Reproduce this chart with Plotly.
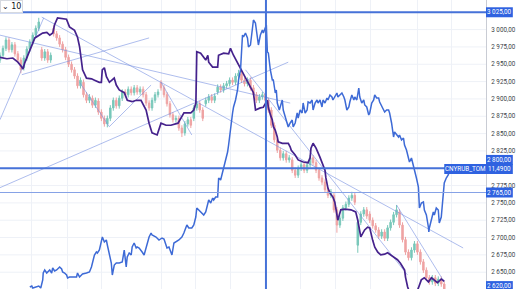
import plotly.graph_objects as go

# ---------------- data ----------------
bars = list(range(150))
opens = [2956,2963,2973,2985,2971,2978,2965,2956,2945,2959,
         2972,2982,2992,3002,2971,2959,2968,2956,3002,2994,
         2988,2979,2971,2960,2950,2942,2933,2919,2924,2906,
         2898,2901,2891,2897,2881,2872,2864,2872,2887,2898,
         2890,2901,2910,2906,2914,2909,2916,2910,2914,2906,
         2894,2887,2898,2906,2924,2916,2906,2893,2877,2870,
         2872,2858,2851,2864,2870,2872,2887,2893,2884,2893,
         2898,2903,2898,2910,2917,2913,2919,2922,2927,2924,
         2933,2936,2927,2922,2927,2916,2906,2898,2903,2907,
         2898,2884,2862,2841,2826,2815,2821,2812,2812,2797,
         2790,2800,2805,2797,2805,2815,2808,2797,2786,2780,
         2769,2761,2761,2740,2718,2728,2743,2748,2757,2761,
         2689,2722,2734,2740,2734,2725,2717,2711,2702,2708,
         2699,2714,2722,2733,2737,2718,2697,2679,2671,2682,
         2691,2679,2665,2653,2642,2636,2642,2634,2640,2633]
closes = [2963,2973,2985,2971,2978,2965,2956,2942,2959,2972,
          2982,2992,3002,3011,2959,2968,2956,2963,2994,2988,
          2979,2971,2960,2950,2942,2933,2919,2927,2906,2898,
          2903,2891,2898,2881,2872,2864,2872,2887,2898,2890,
          2901,2910,2906,2914,2909,2916,2910,2914,2906,2894,
          2887,2898,2906,2910,2916,2906,2893,2877,2870,2872,
          2858,2851,2864,2870,2862,2887,2893,2884,2872,2898,
          2903,2898,2904,2917,2913,2919,2922,2927,2924,2933,
          2937,2927,2922,2927,2916,2906,2898,2903,2906,2898,
          2884,2862,2841,2826,2815,2821,2812,2815,2797,2790,
          2800,2805,2797,2805,2815,2808,2797,2786,2780,2769,
          2761,2766,2740,2718,2728,2743,2748,2757,2761,2751,
          2722,2734,2740,2731,2725,2717,2711,2702,2708,2699,
          2714,2722,2733,2740,2718,2697,2679,2671,2682,2691,
          2679,2665,2653,2642,2636,2642,2634,2640,2633,2622]
highs = [2967,2977,2989,2989,2982,2982,2969,2960,2963,2976,
         2986,2996,3006,3017,2975,2972,2972,2967,3006,2998,
         2992,2983,2975,2964,2954,2946,2937,2931,2928,2910,
         2907,2905,2902,2901,2885,2876,2876,2891,2902,2902,
         2905,2914,2914,2918,2918,2920,2920,2918,2918,2910,
         2898,2902,2910,2914,2927,2920,2910,2897,2881,2876,
         2876,2862,2868,2874,2874,2891,2897,2897,2888,2902,
         2907,2907,2908,2921,2921,2923,2926,2931,2931,2937,
         2942,2940,2931,2931,2931,2920,2910,2907,2910,2911,
         2902,2888,2866,2845,2830,2825,2825,2819,2816,2801,
         2804,2809,2809,2809,2819,2819,2812,2801,2790,2784,
         2773,2770,2765,2744,2732,2747,2752,2761,2766,2765,
         2726,2738,2744,2744,2738,2729,2721,2715,2712,2712,
         2718,2726,2737,2747,2741,2722,2701,2683,2686,2695,
         2695,2683,2669,2657,2646,2646,2646,2644,2644,2637]
lows = [2952,2959,2969,2967,2967,2961,2952,2937,2941,2955,
        2968,2978,2988,2998,2955,2955,2952,2952,2990,2984,
        2975,2967,2956,2946,2938,2929,2915,2915,2902,2894,
        2894,2887,2887,2877,2868,2860,2859,2868,2883,2886,
        2886,2897,2902,2902,2905,2905,2906,2906,2902,2890,
        2883,2883,2894,2902,2912,2902,2889,2873,2866,2866,
        2854,2845,2847,2860,2858,2868,2883,2880,2868,2889,
        2894,2894,2894,2906,2909,2909,2915,2918,2920,2920,
        2929,2923,2918,2918,2912,2902,2894,2894,2899,2894,
        2880,2858,2837,2822,2811,2811,2808,2808,2793,2786,
        2786,2796,2793,2793,2801,2804,2793,2782,2776,2765,
        2757,2757,2736,2707,2714,2724,2739,2744,2753,2747,
        2678,2718,2730,2727,2721,2713,2707,2698,2698,2695,
        2695,2710,2718,2729,2714,2693,2675,2667,2667,2678,
        2675,2661,2649,2638,2632,2632,2630,2630,2629,2618]

# dark purple line (price scale)
ma_x = [0.0,2.3,4.3,6.0,7.3,7.7,8.3,10.0,11.7,14.3,
        15.7,16.7,17.7,18.3,19.0,19.3,22.3,22.7,23.3,25.0,
        26.0,26.7,27.3,27.7,29.0,30.7,31.7,33.3,34.0,34.3,
        35.0,35.7,36.7,38.3,39.0,40.0,41.7,42.7,44.3,45.7,
        47.3,49.0,50.0,51.0,52.7,53.3,54.0,55.7,57.3,59.7,
        61.7,64.0,65.0,65.7,66.0,67.3,68.3,69.0,69.7,70.0,
        71.3,73.0,73.3,75.0,76.7,77.3,78.3,79.7,80.7,81.7,
        83.0,84.0,85.0,85.7,87.3,88.3,89.7,90.0,90.7,91.3,
        91.7,92.3,93.0,93.3,94.7,95.7,96.7,97.3,97.7,99.0,
        100.0,101.7,103.3,104.0,104.3,105.0,106.0,107.3,108.3,109.0,
        109.3,110.0,110.7,111.7,112.3,112.7,113.3,114.3,115.7,117.7,
        119.3,120.0,120.7,121.0,122.3,123.3,124.0,124.3,125.0,125.7,
        126.7,127.7,129.0,130.0,131.0,132.3,133.3,134.3,135.7,136.0,
        136.7,137.7,139.3,140.3,141.3,142.3,143.7,144.7,145.7,146.7,
        148.0,149.0]
ma_y = [2960,2958,2959,2953,2946,2943,2952,2971,2988,2995,
        2996,2992,2995,3007,3014,3017,3015,3011,3004,2999,
        2989,2975,2956,2942,2930,2929,2927,2924,2924,2942,
        2945,2932,2924,2930,2920,2913,2909,2898,2896,2898,
        2898,2884,2865,2851,2848,2855,2865,2862,2862,2865,
        2880,2880,2884,2894,2968,2966,2960,2956,2963,2953,
        2946,2946,2963,2966,2965,2973,2963,2952,2945,2937,
        2927,2917,2909,2884,2887,2888,2898,2888,2877,2870,
        2860,2855,2845,2838,2836,2836,2836,2831,2826,2819,
        2812,2809,2808,2815,2829,2836,2829,2816,2805,2797,
        2786,2771,2764,2758,2751,2737,2725,2740,2741,2740,
        2737,2725,2711,2701,2711,2715,2714,2708,2696,2686,
        2679,2675,2676,2678,2675,2672,2668,2663,2653,2643,
        2629,2617,2617,2627,2639,2642,2636,2642,2639,2635,
        2640,2637]

# CNYRUB_TOM compare line (own scale)
cny_x = [10.0,10.67,11.0,12.33,13.0,13.67,14.33,14.5,15.0,15.67,
         16.0,16.67,17.33,17.67,18.33,19.0,20.0,20.67,21.0,21.67,
         22.33,22.67,23.33,24.33,25.67,26.0,26.67,27.33,27.67,29.0,
         30.0,30.67,31.0,31.67,32.33,32.67,33.33,34.0,34.33,35.0,
         35.67,36.0,36.67,37.33,37.67,38.33,39.0,40.0,41.0,41.67,
         42.33,42.67,43.33,44.0,44.33,45.0,45.67,46.0,46.67,47.33,
         47.67,48.33,49.0,49.33,50.0,50.67,51.0,52.33,53.33,54.33,
         55.0,55.67,56.0,56.67,57.33,57.67,58.33,59.0,60.0,61.0,
         61.67,62.67,63.33,64.33,65.0,65.67,66.0,66.67,67.67,68.33,
         69.0,69.67,70.0,70.67,71.33,71.67,72.33,73.0,73.33,74.0,
         74.67,75.0,75.67,76.33,76.67,77.33,78.0,78.33,79.0,79.67,
         80.0,80.67,81.33,81.67,82.33,83.0,83.33,84.0,84.67,85.0,
         85.67,86.33,86.67,87.33,88.0,88.33,89.0,89.33,89.67,90.0,
         90.67,91.33,91.67,92.33,92.67,93.0,93.67,94.67,95.0,95.67,
         96.33,96.67,97.33,98.0,98.33,99.0,99.67,100.0,100.67,101.33,
         101.67,102.33,103.0,103.33,104.0,104.67,105.0,105.67,106.33,106.67,
         107.33,108.0,108.33,109.0,109.67,110.0,110.67,111.33,111.67,112.33,
         113.0,113.33,114.0,114.67,115.33,115.67,116.33,117.0,117.33,118.0,
         118.67,119.0,119.67,120.33,120.67,121.33,122.0,122.33,123.0,123.67,
         124.0,124.67,125.33,125.67,126.33,127.0,127.33,128.0,128.67,129.0,
         129.67,130.33,130.67,131.33,132.0,132.33,133.0,133.67,134.0,134.67,
         135.33,135.67,136.33,137.0,137.33,138.0,138.67,139.0,139.67,140.33,
         140.5,140.67,141.33,142.0,142.33,143.0,143.67,143.83,144.0,144.67,
         145.33,145.67,146.33,147.0,147.33,148.0,148.33,148.67,149.0,149.67,
         150.33,151.0]
cny_y = [11.254,11.256,11.252,11.254,11.256,11.252,11.268,11.282,11.288,11.282,
         11.284,11.288,11.282,11.292,11.286,11.288,11.294,11.290,11.284,11.282,
         11.278,11.272,11.274,11.274,11.274,11.282,11.274,11.278,11.280,11.282,
         11.284,11.294,11.304,11.318,11.324,11.322,11.328,11.342,11.354,11.344,
         11.348,11.338,11.322,11.302,11.278,11.298,11.302,11.302,11.304,11.328,
         11.294,11.314,11.322,11.318,11.334,11.342,11.332,11.334,11.332,11.328,
         11.324,11.318,11.334,11.342,11.354,11.362,11.358,11.354,11.348,11.352,
         11.350,11.338,11.332,11.334,11.324,11.318,11.342,11.344,11.348,11.354,
         11.362,11.378,11.372,11.372,11.378,11.394,11.412,11.408,11.402,11.398,
         11.404,11.422,11.428,11.422,11.432,11.428,11.434,11.434,11.472,11.468,
         11.484,11.492,11.508,11.524,11.538,11.574,11.602,11.614,11.628,11.648,
         11.668,11.688,11.758,11.754,11.762,11.752,11.734,11.738,11.774,11.788,
         11.782,11.754,11.738,11.758,11.768,11.762,11.772,11.778,11.724,11.722,
         11.688,11.668,11.668,11.642,11.648,11.622,11.608,11.628,11.608,11.594,
         11.578,11.574,11.582,11.588,11.574,11.582,11.602,11.592,11.608,11.602,
         11.622,11.602,11.608,11.624,11.622,11.628,11.608,11.622,11.628,11.622,
         11.628,11.614,11.628,11.622,11.632,11.628,11.638,11.634,11.628,11.634,
         11.642,11.634,11.638,11.642,11.634,11.628,11.608,11.614,11.624,11.638,
         11.628,11.634,11.628,11.652,11.634,11.622,11.628,11.618,11.614,11.598,
         11.602,11.622,11.628,11.638,11.632,11.632,11.624,11.614,11.608,11.604,
         11.608,11.608,11.602,11.582,11.554,11.564,11.558,11.554,11.558,11.548,
         11.552,11.538,11.528,11.514,11.504,11.512,11.498,11.488,11.472,11.454,
         11.422,11.412,11.422,11.424,11.408,11.398,11.374,11.364,11.372,11.388,
         11.404,11.398,11.412,11.408,11.382,11.394,11.422,11.454,11.462,11.472,
         11.478,11.490]
cny_last_label = "11,4900"
cny_name = "CNYRUB_TOM"

# drawn trend lines (bar index, price)
trend_x0 = [0, 14, 7.33, 0, 82.33, 133, 0, 36.67, 26.67, 54]
trend_y0 = [2992, 3018, 2935, 2870, 2942, 2747, 2772, 2860, 2924, 2924]
trend_x1 = [97.33, 155.33, 50, 14.67, 136.67, 149, 96.67, 50.67, 36.67, 64.33]
trend_y1 = [2894, 2685, 2988, 3017, 2646, 2636, 2953, 2920, 2860, 2848]

# horizontal / vertical drawn lines
h_levels = [3025, 2800]
h_level_thin = [2765]
v_line_bars = [89.2]

# axis ticks
y_ticks = [3000, 2975, 2950, 2925, 2900, 2875, 2850, 2825, 2775, 2750, 2725, 2700, 2675, 2650]
y_grid = [3025, 3000, 2975, 2950, 2925, 2900, 2875, 2850, 2825, 2800, 2775, 2750, 2725, 2700, 2675, 2650]
x_grid = [10.57, 22.57, 34.1, 54.1, 65.57, 77.43, 89.23, 100.9, 112.57, 124.1, 140, 151.33]

def fmt(v):
    s = f"{v:,.2f}".replace(",", " ").replace(".", ",")
    return s

# ---------------- figure ----------------
W, H = 516, 289
ML, MR = 0, 27
PW = W - ML - MR
Y_RANGE = [2625.8, 3042.7]
Y2_RANGE = [11.250, 11.828]
X_RANGE = [0, 163]

BLUE = "#2f62e0"
LINE_BLUE = "#4672d8"
TREND = "rgba(120,145,225,0.6)"

fig = go.Figure()

fig.add_trace(go.Candlestick(
    x=bars, open=opens, high=highs, low=lows, close=closes,
    increasing=dict(line=dict(color="#5cbcab", width=1), fillcolor="#5cbcab"),
    decreasing=dict(line=dict(color="#ec9090", width=1), fillcolor="#ec9090"),
    whiskerwidth=0, opacity=0.82, hoverinfo="skip", showlegend=False))

tx, ty = [], []
for a, b, c, d in zip(trend_x0, trend_y0, trend_x1, trend_y1):
    tx += [a, c, None]
    ty += [b, d, None]
fig.add_trace(go.Scatter(x=tx, y=ty, mode="lines",
                         line=dict(color=TREND, width=1), hoverinfo="skip", showlegend=False))

fig.add_trace(go.Scatter(x=ma_x, y=ma_y, mode="lines",
                         line=dict(color="#45228c", width=1.7), hoverinfo="skip", showlegend=False))

fig.add_trace(go.Scatter(x=cny_x, y=cny_y, mode="lines", yaxis="y2",
                         line=dict(color="#3d6ad6", width=1.5), hoverinfo="skip", showlegend=False))

shapes = []
for lv in h_levels:
    shapes.append(dict(type="line", xref="paper", yref="y", x0=0, x1=1, y0=lv, y1=lv,
                       line=dict(color=LINE_BLUE, width=2), layer="above"))
for lv in h_level_thin:
    shapes.append(dict(type="line", xref="paper", yref="y", x0=0, x1=1, y0=lv, y1=lv,
                       line=dict(color="#86a2e6", width=1), layer="above"))
for vb in v_line_bars:
    shapes.append(dict(type="line", xref="x", yref="paper", x0=vb, x1=vb, y0=0, y1=1,
                       line=dict(color=LINE_BLUE, width=2), layer="above"))

annotations = []
ppx = (Y_RANGE[1] - Y_RANGE[0]) / H  # price per pixel
x_right = 1 + MR / PW

def label_box(yc, text, yref="y", per_px=ppx, x0=1.0):
    shapes.append(dict(type="rect", xref="paper", yref=yref, x0=x0, x1=x_right,
                       y0=yc - 5 * per_px, y1=yc + 5 * per_px,
                       fillcolor=BLUE, line=dict(width=0), layer="above"))
    annotations.append(dict(xref="paper", yref=yref, x=(1.0 + x_right) / 2, y=yc,
                            text=text, showarrow=False, xanchor="center", yanchor="middle",
                            font=dict(color="white", size=6.3, family="Roboto")))

label_box(3025, fmt(3025))
label_box(2812, fmt(2800))
label_box(2765, fmt(2765))
label_box(2630, fmt(2620))
# CNYRUB label on compare scale
pp2 = (Y2_RANGE[1] - Y2_RANGE[0]) / H
label_box(cny_y[-1], cny_last_label, yref="y2", per_px=pp2)
shapes.append(dict(type="rect", xref="paper", yref="y2", x0=1 - 42 / PW, x1=1.0,
                   y0=cny_y[-1] - 5 * pp2, y1=cny_y[-1] + 5 * pp2,
                   fillcolor=BLUE, line=dict(width=0), layer="above"))
annotations.append(dict(xref="paper", yref="y2", x=1 - 21 / PW, y=cny_y[-1], text=cny_name,
                        showarrow=False, xanchor="center", yanchor="middle",
                        font=dict(color="white", size=6.3, family="Roboto")))

annotations.append(dict(xref="paper", yref="paper", x=0, y=1, xanchor="left", yanchor="top",
                        text="⌄ 10", showarrow=False, bgcolor="white",
                        bordercolor="#d6d9e0", borderwidth=1, borderpad=1,
                        font=dict(color="#131722", size=8, family="DejaVu Sans")))

fig.update_layout(
    width=W, height=H,
    margin=dict(l=ML, r=MR, t=0, b=0),
    paper_bgcolor="white", plot_bgcolor="white",
    showlegend=False,
    shapes=shapes, annotations=annotations,
    xaxis=dict(range=X_RANGE, rangeslider=dict(visible=False), showticklabels=False,
               tickvals=x_grid, showgrid=True, gridcolor="#eef1f7", gridwidth=1,
               zeroline=False, showline=False, ticks="", fixedrange=True),
    yaxis=dict(range=Y_RANGE, side="right", tickvals=y_ticks,
               ticktext=[fmt(v) for v in y_ticks], showgrid=False,
               tickfont=dict(size=6.3, color="#3c3f48", family="Roboto"),
               ticks="", ticklabelstandoff=3, zeroline=False,
               showline=True, linecolor="#c9ccd4", linewidth=1),
    yaxis2=dict(range=Y2_RANGE, overlaying="y", side="right", visible=False),
)
# horizontal grid lines (under traces)
for g in y_grid:
    fig.add_shape(type="line", xref="paper", yref="y", x0=0, x1=1, y0=g, y1=g,
                  line=dict(color="#eef1f7", width=1), layer="below")

fig.write_html("out.html")
